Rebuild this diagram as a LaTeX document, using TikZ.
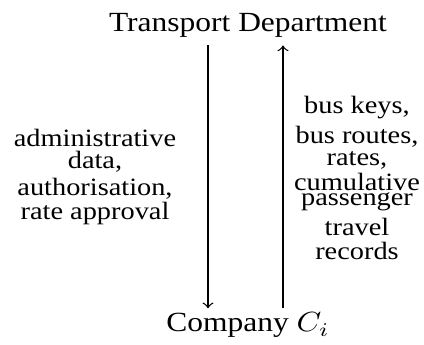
\documentclass[tikz,border=0pt]{standalone}
\usepackage{graphicx}
\usepackage{fontspec}
\setmainfont{Liberation Serif}
\newcommand\squash[1]{\scalebox{1}[0.88]{#1}}
\newcommand\stacklines[1]{\vbox{\baselineskip=9pt\lineskiplimit=-20pt\lineskip=0pt\halign{\hfil##\hfil\cr#1\crcr}}}
\newcommand\linegap[1]{\noalign{\vskip#1}}
\begin{document}
\begin{tikzpicture}[x=0.31746pt,y=-0.31746pt,
  every node/.style={font=\fontsize{10}{12}\selectfont},
  flowtext/.style={anchor=base, inner sep=0pt, font=\fontsize{9}{9}\selectfont},
  flow/.style={->, line width=0.4pt}]
\useasboundingbox (0,0) rectangle (424,345);
\node[anchor=base, inner xsep=0pt, inner ysep=2.2pt] (td) at (248,32) {\squash{Transport Department}};
\node[anchor=base, inner xsep=0pt, inner ysep=1.3pt] (co) at (248,332) {\squash{Company $C_i$}};
\coordinate (L) at (208,0);
\coordinate (R) at (283,0);
\draw[flow] (td.south -| L) -- (co.north -| L);
\draw[flow] (co.north -| R) -- (td.south -| R);
\node[flowtext] (adm) at (95,220) {\squash{\stacklines{administrative\cr\linegap{-1.06pt}data,\cr\linegap{0.74pt}authorisation,\cr rate approval}}};
\node[flowtext] (bus) at (357,260) {\squash{\stacklines{bus keys,\cr\linegap{1.82pt}bus routes,\cr\linegap{-1.06pt}rates,\cr cumulative\cr\linegap{-3.6pt}passenger\cr\linegap{1.8pt}travel\cr records}}};
\end{tikzpicture}
\end{document}
